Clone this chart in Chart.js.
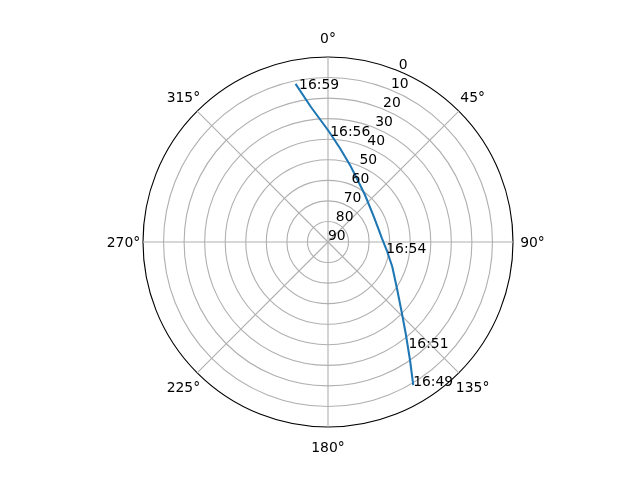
<!DOCTYPE html>
<html>
<head>
<meta charset="utf-8">
<title>Sky plot</title>
<script src="https://cdn.jsdelivr.net/npm/chart.js@4.4.1/dist/chart.umd.min.js"></script>
<style>
  html, body { margin: 0; padding: 0; background: #fff; }
  canvas { display: block; }
</style>
</head>
<body>
<canvas id="sky" width="640" height="480"></canvas>
<script>
// Azimuth labels around the dish (0° = north, clockwise)
const thetaLabels = ['0°', '45°', '90°', '135°', '180°', '225°', '270°', '315°'];

// Satellite track, in time order (azimuth and elevation in degrees)
const trackAzimuth   = [149.2, 145.2, 139.6, 134.0, 124.7, 111.0, 97.8, 86.1, 76.7, 59.2, 38.2, 24.3, 15.9, 7.3, 0.3, 352.8, 348.4];
const trackElevation = [9.0, 20.1, 31.7, 40.0, 49.0, 56.5, 61.2, 63.7, 64.6, 64.4, 60.9, 56.0, 51.0, 44.0, 36.0, 23.8, 11.5];

// Time stamps written along the track
const passTimes     = ['16:49', '16:51', '16:54', '16:56', '16:59'];
const passAzimuth   = [149.4, 142.9, 100.4, 1.2, 349.3];
const passElevation = [8.6, 25.1, 61.2, 38.4, 14.3];

const FONT = "13.9px 'DejaVu Sans'";

// zenith distance on a flat x/y plane, north up, east right
function toXY(az, el) {
  const a = az * Math.PI / 180;
  return { x: (90 - el) * Math.sin(a), y: (90 - el) * Math.cos(a) };
}

const trackPoints = trackAzimuth.map((az, i) => toXY(az, trackElevation[i]));
const passPoints = passAzimuth.map((az, i) => toXY(az, passElevation[i]));

// labels that matplotlib puts around the polar axes
const polarLabels = {
  id: 'polarLabels',
  afterDraw(chart) {
    const ctx = chart.ctx;
    const r = chart.scales.r;
    ctx.save();
    ctx.font = FONT;
    ctx.fillStyle = '#000';

    // azimuth labels
    ctx.textAlign = 'center';
    ctx.textBaseline = 'alphabetic';
    thetaLabels.forEach((t, i) => {
      const p = r.getPointPosition(i, r.drawingArea + 19.5);
      ctx.fillText(t, p.x, p.y + 5);
    });

    // elevation labels along 22.5°
    ctx.textAlign = 'left';
    r.ticks.forEach(tick => {
      const p = r.getPointPosition(0.5, r.getDistanceFromCenterForValue(tick.value));
      ctx.fillText(tick.label, p.x, p.y - 2.3);
    });

    // time stamps
    chart.getDatasetMeta(1).data.forEach((pt, i) => {
      ctx.fillText(passTimes[i], pt.x, pt.y);
    });
    ctx.restore();
  }
};

new Chart(document.getElementById('sky'), {
  type: 'scatter',
  data: {
    labels: thetaLabels,
    datasets: [
      {
        data: trackPoints,
        showLine: true,
        borderColor: '#1f77b4',
        borderWidth: 2.08,
        pointRadius: 0,
        pointHoverRadius: 0,
        tension: 0
      },
      {
        data: passPoints,
        showLine: false,
        pointRadius: 0,
        pointHoverRadius: 0
      }
    ]
  },
  options: {
    responsive: false,
    animation: false,
    devicePixelRatio: 1,
    layout: { padding: { left: 143, right: 127, top: 57, bottom: 53 } },
    plugins: { legend: { display: false }, tooltip: { enabled: false } },
    scales: {
      x: { type: 'linear', display: false, min: -90, max: 90 },
      y: { type: 'linear', display: false, min: -90, max: 90 },
      r: {
        type: 'radialLinear',
        min: 0,
        max: 90,
        reverse: true,
        ticks: { display: false, stepSize: 10, reverse: true },
        pointLabels: { display: false },
        grid: {
          circular: true,
          color: c => (c.tick && c.tick.value === 0) ? '#000' : '#b0b0b0',
          lineWidth: 1.11
        },
        angleLines: { color: '#b0b0b0', lineWidth: 1.11 }
      }
    }
  },
  plugins: [polarLabels]
});
</script>
</body>
</html>
